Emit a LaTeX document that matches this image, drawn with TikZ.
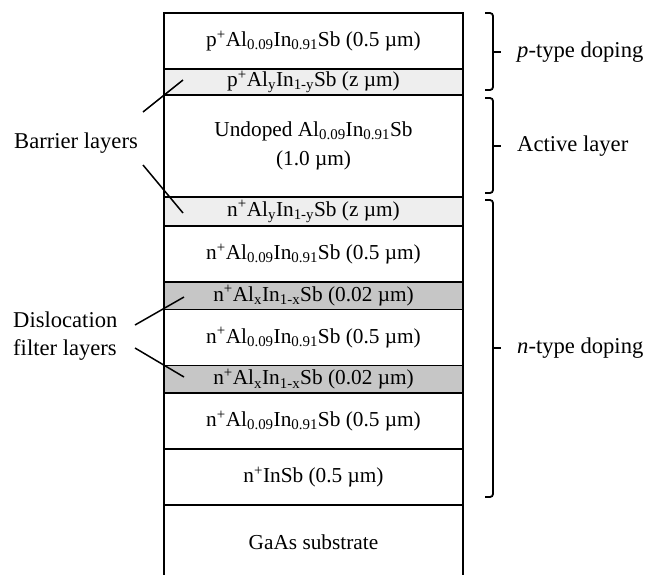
\documentclass[tikz,border=0pt]{standalone}
\usepackage{fontspec}
\setmainfont{Liberation Serif}
\usetikzlibrary{positioning}
\tikzset{
  layer/.style={draw, line width=1.8pt, minimum width=299pt, outer sep=0pt, inner sep=0pt,
    fill=white, font=\fontsize{21.3}{29}\selectfont, align=center},
  thick layer/.style={layer, minimum height=56pt},
  barrier/.style={layer, minimum height=27pt, fill=gray!13},
  filter/.style={layer, minimum height=27.5pt, fill=gray!45},
  side label/.style={font=\fontsize{22.6}{28}\selectfont, inner sep=0pt},
  lead/.style={line width=1.5pt},
  bracket/.style={line width=1.8pt, rounded corners=3pt}
}
\newcommand{\alin}{Al\textsubscript{0.09}In\textsubscript{0.91}Sb}
\begin{document}
\begin{tikzpicture}[x=1pt, y=-1pt]
  \useasboundingbox (0,0) rectangle (651,574);
  % layer stack, top to bottom
  \node[thick layer, anchor=north] (ptop) at (313.5,13) {p\textsuperscript{+}\alin{} (0.5 µm)};
  \node[barrier, minimum height=26pt, below=0pt of ptop] (pbar) {p\textsuperscript{+}Al\textsubscript{y}In\textsubscript{1-y}Sb (z µm)};
  \node[layer, minimum height=102pt, below=0pt of pbar] (active) {Undoped \alin\\(1.0 µm)};
  \node[barrier, minimum height=29pt, below=0pt of active] (nbar) {n\textsuperscript{+}Al\textsubscript{y}In\textsubscript{1-y}Sb (z µm)};
  \node[thick layer, below=0pt of nbar] (nA) {n\textsuperscript{+}\alin{} (0.5 µm)};
  \node[filter, below=0pt of nA] (filtA) {n\textsuperscript{+}Al\textsubscript{x}In\textsubscript{1-x}Sb (0.02 µm)};
  \node[thick layer, below=0pt of filtA] (nB) {n\textsuperscript{+}\alin{} (0.5 µm)};
  \node[filter, below=0pt of nB] (filtB) {n\textsuperscript{+}Al\textsubscript{x}In\textsubscript{1-x}Sb (0.02 µm)};
  \node[thick layer, below=0pt of filtB] (nC) {n\textsuperscript{+}\alin{} (0.5 µm)};
  \node[thick layer, below=0pt of nC] (insb) {n\textsuperscript{+}InSb (0.5 µm)};
  \node[layer, minimum height=74pt, below=0pt of insb] (subs) {GaAs substrate};

  % brackets on the right
  \draw[bracket] (485,13) -| (493,90) -- (485,90);
  \draw[bracket] (485,98) -| (493,193) -- (485,193);
  \draw[bracket] (485,200) -| (493,497) -- (485,497);
  \coordinate (ptick) at (493,52);
  \coordinate (atick) at (493,146);
  \coordinate (ntick) at (493,348);
  \node[side label, anchor=west] (ptype) at (517,52) {\textit{p}-type doping};
  \node[side label, anchor=west] (actlbl) at (517,146) {Active layer};
  \node[side label, anchor=west] (ntype) at (517,348) {\textit{n}-type doping};
  \draw[line width=1.8pt] (ptick) -- +(8,0);
  \draw[line width=1.8pt] (atick) -- +(8,0);
  \draw[line width=1.8pt] (ntick) -- +(8,0);

  % labels on the left
  \node[side label, anchor=west] (barlbl) at (14,143) {Barrier layers};
  \node[side label, anchor=west, align=left] (dislbl) at (13,336) {Dislocation\\filter layers};
  \coordinate (barA) at (143,112);
  \coordinate (barB) at (143,165);
  \coordinate (disA) at (135,325);
  \coordinate (disB) at (135,348);
  \coordinate (pbarend) at (183,80);
  \coordinate (nbarend) at (183,213);
  \coordinate (filtAend) at (184,297);
  \coordinate (filtBend) at (184,377);
  \draw[lead] (barA) -- (pbarend);
  \draw[lead] (barB) -- (nbarend);
  \draw[lead] (disA) -- (filtAend);
  \draw[lead] (disB) -- (filtBend);
\end{tikzpicture}
\end{document}
